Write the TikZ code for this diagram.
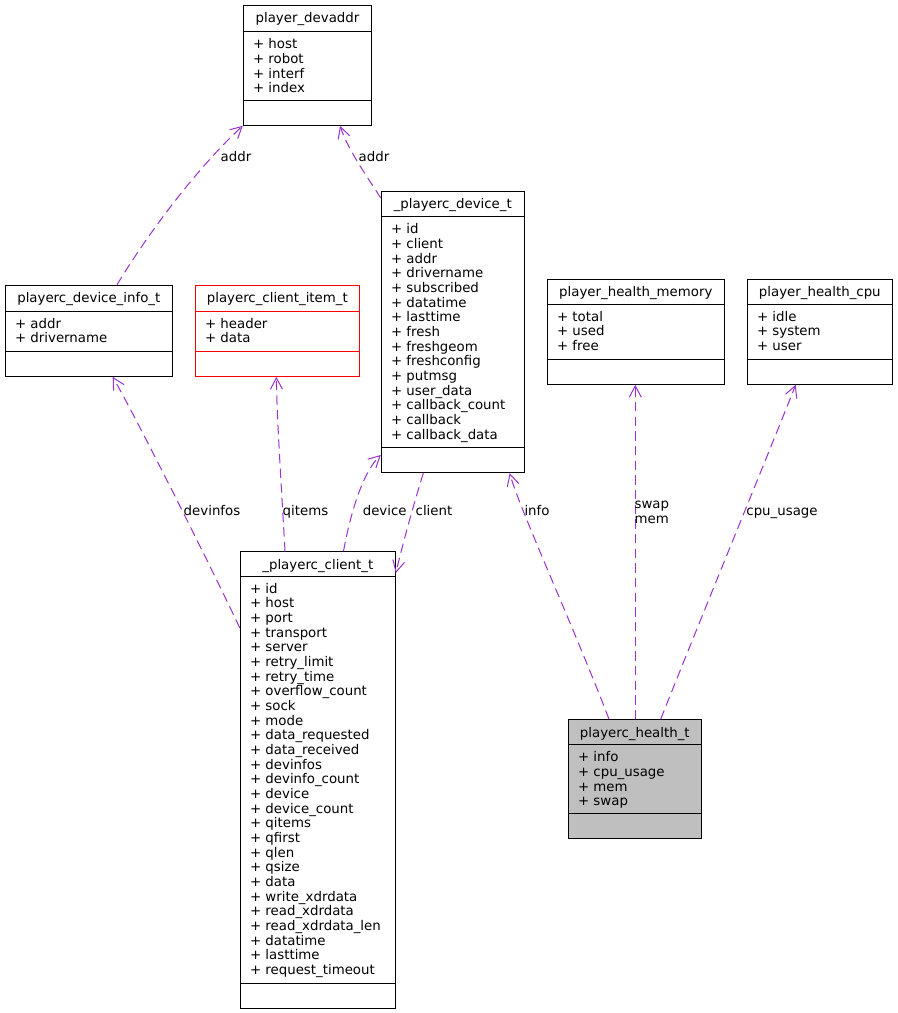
\documentclass[tikz,border=0pt]{standalone}
\usepackage{fontspec}
\setmainfont{DejaVu Sans}
\usetikzlibrary{arrows.meta,fit}
\definecolor{edgec}{HTML}{9A32CD}
\definecolor{graybox}{HTML}{BFBFBF}
\tikzset{
  box/.style={draw=black,line width=0.75pt,inner sep=0pt,rectangle},
  div/.style={draw=black,line width=0.75pt},
  redbox/.style={draw=red},
  graybg/.style={fill=graybox},
  plainbox/.style={},
  txt/.style={inner sep=0pt,font=\fontsize{10pt}{11pt}\selectfont},
  lbl/.style={inner sep=0pt,font=\fontsize{10pt}{11pt}\selectfont,anchor=base},
  uses/.style={draw=edgec,line width=0.75pt,dash pattern=on 7pt off 4pt,
    -{Straight Barb[length=8.5pt,width=9pt,line width=0.75pt]}},
}
% #1 name, #2 style, #3 x1, #4 y1, #5 x2, #6 title divider y, #7 attr divider y, #8 title, #9 attributes
\newcommand\classbox[9]{%
  \node[box,#2,fit={(#3,#4) (#5,#7+25)}] (#1) {};
  \draw[div,#2] (#1.west |- 0,#6) -- (#1.east |- 0,#6);
  \draw[div,#2] (#1.west |- 0,#7) -- (#1.east |- 0,#7);
  \node[txt,anchor=base] (#1-title) at (#1.north |- 0,#4+17.5) {#8};
  \node[txt,anchor=base west] (#1-attrs) at (#3+9.5,#6+17)
    {\begin{tabular}[t]{@{}l@{}}#9\end{tabular}};
}
\begin{document}
\begin{tikzpicture}[x=0.75pt,y=-0.75pt]
\fill[white] (0,0) rectangle (897,1013);
\useasboundingbox (0,0) rectangle (897,1013);

\classbox{devaddr}{plainbox}{243.3}{5.3}{371.7}{31.7}{100.3}{player\_devaddr}
  {+ host\\+ robot\\+ interf\\+ index}
\classbox{devinfo}{plainbox}{5.3}{285.3}{172.3}{311.3}{351.3}{playerc\_device\_info\_t}
  {+ addr\\+ drivername}
\classbox{clientitem}{redbox}{195.3}{285.3}{359.3}{311.3}{351.3}{playerc\_client\_item\_t}
  {+ header\\+ data}
\classbox{device}{plainbox}{381.3}{191.3}{524.3}{216.7}{447.7}{\_playerc\_device\_t}
  {+ id\\+ client\\+ addr\\+ drivername\\+ subscribed\\+ datatime\\+ lasttime\\+ fresh\\+ freshgeom\\+ freshconfig\\+ putmsg\\+ user\_data\\+ callback\_count\\+ callback\\+ callback\_data}
\classbox{memory}{plainbox}{547.3}{279.3}{724.3}{304.3}{359.3}{player\_health\_memory}
  {+ total\\+ used\\+ free}
\classbox{cpu}{plainbox}{747.3}{279.3}{892.3}{304.3}{359.3}{player\_health\_cpu}
  {+ idle\\+ system\\+ user}
\classbox{client}{plainbox}{240.3}{551.7}{395.3}{576.3}{983.7}{\_playerc\_client\_t}
  {+ id\\+ host\\+ port\\+ transport\\+ server\\+ retry\_limit\\+ retry\_time\\+ overflow\_count\\+ sock\\+ mode\\+ data\_requested\\+ data\_received\\+ devinfos\\+ devinfo\_count\\+ device\\+ device\_count\\+ qitems\\+ qfirst\\+ qlen\\+ qsize\\+ data\\+ write\_xdrdata\\+ read\_xdrdata\\+ read\_xdrdata\_len\\+ datatime\\+ lasttime\\+ request\_timeout}
\classbox{health}{graybg}{568.3}{719.7}{701.3}{744.7}{813.3}{playerc\_health\_t}
  {+ info\\+ cpu\_usage\\+ mem\\+ swap}

% connectors
\draw[uses] (117,0 |- devinfo.north) .. controls (150,230) and (200,165) .. (devaddr.south west);
\draw[uses] (device.west |- 0,198) .. controls (368,178) and (348,150) .. (340,0 |- devaddr.south);
\draw[uses] (client.west |- 0,628) .. controls (215,575) and (140,425) .. (112.7,0 |- devinfo.south);
\draw[uses] (285,0 |- client.north) .. controls (281,480) and (277,420) .. (276.3,0 |- clientitem.south);
\draw[uses] (343.5,0 |- client.north) .. controls (352,505) and (365,470) .. (device.west |- 0,455);
\draw[uses] (423.3,0 |- device.south) .. controls (415,500) and (405,535) .. (client.east |- 0,573);
\draw[uses] (609,0 |- health.north) .. controls (575,630) and (520,510) .. (509.7,0 |- device.south);
\draw[uses] (635.3,0 |- health.north) -- (635.3,0 |- memory.south);
\draw[uses] (660.7,0 |- health.north) .. controls (700,620) and (770,450) .. (795.7,0 |- cpu.south);

% labels
\node[lbl] (l-addr1) at (236,161.5) {addr};
\node[lbl] (l-addr2) at (374,161.5) {addr};
\node[lbl] (l-devinfos) at (212,515) {devinfos};
\node[lbl] (l-qitems) at (305.5,515) {qitems};
\node[lbl] (l-device) at (384.7,515) {device};
\node[lbl] (l-client) at (434,515) {client};
\node[lbl] (l-info) at (537,515) {info};
\node[lbl,anchor=base west] (l-swap) at (634.3,508.3) {swap};
\node[lbl,anchor=base west] (l-mem) at (634.3,523) {mem};
\node[lbl] (l-cpu) at (782,515) {cpu\_usage};
\end{tikzpicture}
\end{document}
